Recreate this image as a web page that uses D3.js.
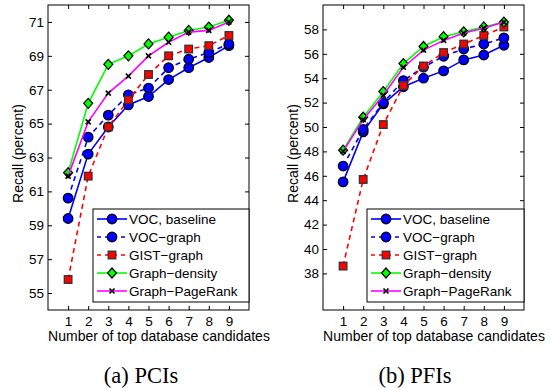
<!DOCTYPE html>
<html>
<head>
<meta charset="utf-8">
<script src="https://cdn.jsdelivr.net/npm/d3@7"></script>
<style>
  body { margin: 0; background: #fff; }
</style>
</head>
<body>
<svg id="chart" width="550" height="388" font-family="'Liberation Sans', Arial, sans-serif"></svg>
<script>
// candidates on the x axis
const candidates = [1, 2, 3, 4, 5, 6, 7, 8, 9];
const seriesNames = ["VOC, baseline", "VOC\u2212graph", "GIST\u2212graph", "Graph\u2212density", "Graph\u2212PageRank"];

// (a) PCIs
const pciBaseline = [59.4, 63.2, 64.8, 66.1, 66.6, 67.6, 68.3, 68.9, 69.6];
const pciVocGraph = [60.6, 64.2, 65.5, 66.7, 67.1, 68.3, 68.8, 69.2, 69.7];
const pciGistGraph = [55.8, 61.9, 64.8, 66.4, 67.9, 69.0, 69.4, 69.6, 70.2];
const pciDensity = [62.1, 66.2, 68.5, 69.0, 69.7, 70.1, 70.5, 70.7, 71.1];
const pciPageRank = [61.9, 65.1, 66.8, 67.8, 69.0, 69.8, 70.4, 70.5, 71.0];
const pciTicks = [55, 57, 59, 61, 63, 65, 67, 69, 71];

// (b) PFIs
const pfiBaseline = [45.5, 49.6, 51.9, 53.3, 54.0, 54.6, 55.5, 55.9, 56.7];
const pfiVocGraph = [46.8, 49.8, 52.0, 53.8, 54.9, 55.8, 56.4, 56.8, 57.3];
const pfiGistGraph = [38.6, 45.7, 50.2, 53.4, 55.0, 56.1, 56.8, 57.5, 58.2];
const pfiDensity = [48.1, 50.8, 52.9, 55.2, 56.6, 57.4, 57.8, 58.2, 58.6];
const pfiPageRank = [48.0, 50.6, 52.6, 54.9, 56.3, 57.1, 57.7, 58.1, 58.6];
const pfiTicks = [38, 40, 42, 44, 46, 48, 50, 52, 54, 56, 58];

// look of each series
const styles = [
  { color: "#0000ff", dash: null, marker: "circle" },
  { color: "#0000ff", dash: "5,4", marker: "circle" },
  { color: "#ff0000", dash: "5,4", marker: "square" },
  { color: "#00ff00", dash: null, marker: "diamond" },
  { color: "#ff00ff", dash: null, marker: "cross" }
];

const sansFont = "'Liberation Sans', Arial, sans-serif";
const svg = d3.select("#chart");

function drawMarker(g, type, x, y, color) {
  if (type === "circle") {
    g.append("circle").attr("cx", x).attr("cy", y).attr("r", 4.8)
      .attr("fill", color).attr("stroke", "#000").attr("stroke-width", 1.2);
  } else if (type === "square") {
    g.append("rect").attr("x", x - 3.8).attr("y", y - 3.8).attr("width", 7.6).attr("height", 7.6)
      .attr("fill", color).attr("stroke", "#333").attr("stroke-width", 1.3);
  } else if (type === "diamond") {
    g.append("path").attr("d", `M${x},${y - 5}L${x + 4.5},${y}L${x},${y + 5}L${x - 4.5},${y}Z`)
      .attr("fill", color).attr("stroke", "#000").attr("stroke-width", 1.2);
  } else {
    g.append("path").attr("d", `M${x - 2.5},${y - 2.5}L${x + 2.5},${y + 2.5}M${x - 2.5},${y + 2.5}L${x + 2.5},${y - 2.5}`)
      .attr("stroke", "#000").attr("stroke-width", 1.6);
  }
}

function drawPanel(opt) {
  const x = d3.scaleLinear().domain([0, 10]).range([opt.left, opt.right]);
  const y = d3.scaleLinear().domain(opt.yDomain).range([opt.bottom, opt.top]);
  const g = svg.append("g");

  // inward ticks on all four sides
  g.append("g").attr("transform", `translate(${opt.left},0)`)
    .call(d3.axisLeft(y).tickValues(opt.ticks).tickSize(-4).tickPadding(4))
    .call(a => a.select(".domain").remove())
    .attr("font-family", sansFont)
    .selectAll("text").attr("font-size", 13.5).attr("fill", "#000");
  g.append("g").attr("transform", `translate(${opt.right},0)`)
    .call(d3.axisRight(y).tickValues(opt.ticks).tickSize(-4).tickFormat(""))
    .call(a => a.select(".domain").remove());
  g.append("g").attr("transform", `translate(0,${opt.bottom})`)
    .call(d3.axisBottom(x).tickValues(candidates).tickSize(-4).tickPadding(6))
    .call(a => a.select(".domain").remove())
    .attr("font-family", sansFont)
    .selectAll("text").attr("font-size", 13.5).attr("fill", "#000");
  g.append("g").attr("transform", `translate(0,${opt.top})`)
    .call(d3.axisTop(x).tickValues(candidates).tickSize(-4).tickFormat(""))
    .call(a => a.select(".domain").remove());

  g.append("rect").attr("x", opt.left).attr("y", opt.top)
    .attr("width", opt.right - opt.left).attr("height", opt.bottom - opt.top)
    .attr("fill", "none").attr("stroke", "#000").attr("stroke-width", 1);

  const line = d3.line().x((d, i) => x(candidates[i])).y(d => y(d));
  opt.series.forEach((vals, k) => {
    const s = styles[k];
    const sg = g.append("g");
    sg.append("path").datum(vals).attr("d", line)
      .attr("fill", "none").attr("stroke", s.color).attr("stroke-width", 1.6)
      .attr("stroke-dasharray", s.dash);
    vals.forEach((v, i) => drawMarker(sg, s.marker, x(candidates[i]), y(v), s.color));
  });

  // axis titles
  g.append("text").attr("x", (opt.left + opt.right) / 2 + 10.5).attr("y", opt.bottom + 31)
    .attr("text-anchor", "middle").attr("font-size", 14).text("Number of top database candidates");
  g.append("text").attr("transform", `translate(${opt.left - 25},${(opt.top + opt.bottom) / 2 - 4}) rotate(-90)`)
    .attr("text-anchor", "middle").attr("font-size", 14).text("Recall (percent)");

  // legend
  const lg = g.append("g");
  const lx = opt.legendLeft, ly = 209;
  lg.append("rect").attr("x", lx).attr("y", ly).attr("width", opt.right - lx).attr("height", 93)
    .attr("fill", "#fff").attr("stroke", "#000").attr("stroke-width", 1);
  seriesNames.forEach((name, k) => {
    const s = styles[k];
    const ry = ly + 10 + k * 18;
    lg.append("line").attr("x1", lx + 4).attr("x2", lx + 34).attr("y1", ry).attr("y2", ry)
      .attr("stroke", s.color).attr("stroke-width", 1.6).attr("stroke-dasharray", s.dash ? "4,4" : null);
    drawMarker(lg, s.marker, lx + 19, ry, s.color);
    lg.append("text").attr("x", lx + 36).attr("y", ry).attr("dy", "0.36em")
      .attr("font-size", 13.5).text(name);
  });

  // sub caption
  svg.append("text").attr("x", opt.captionX).attr("y", 383).attr("text-anchor", "middle")
    .attr("font-family", "'Liberation Serif', 'Times New Roman', serif")
    .attr("font-size", 22.5).text(opt.caption);
}

drawPanel({
  left: 48, right: 249, top: 5, bottom: 310,
  yDomain: [54, 72], ticks: pciTicks, legendLeft: 93,
  series: [pciBaseline, pciVocGraph, pciGistGraph, pciDensity, pciPageRank],
  caption: "(a) PCIs", captionX: 141
});

drawPanel({
  left: 323, right: 524, top: 5, bottom: 310,
  yDomain: [35, 60], ticks: pfiTicks, legendLeft: 367,
  series: [pfiBaseline, pfiVocGraph, pfiGistGraph, pfiDensity, pfiPageRank],
  caption: "(b) PFIs", captionX: 415
});
</script>
</body>
</html>
